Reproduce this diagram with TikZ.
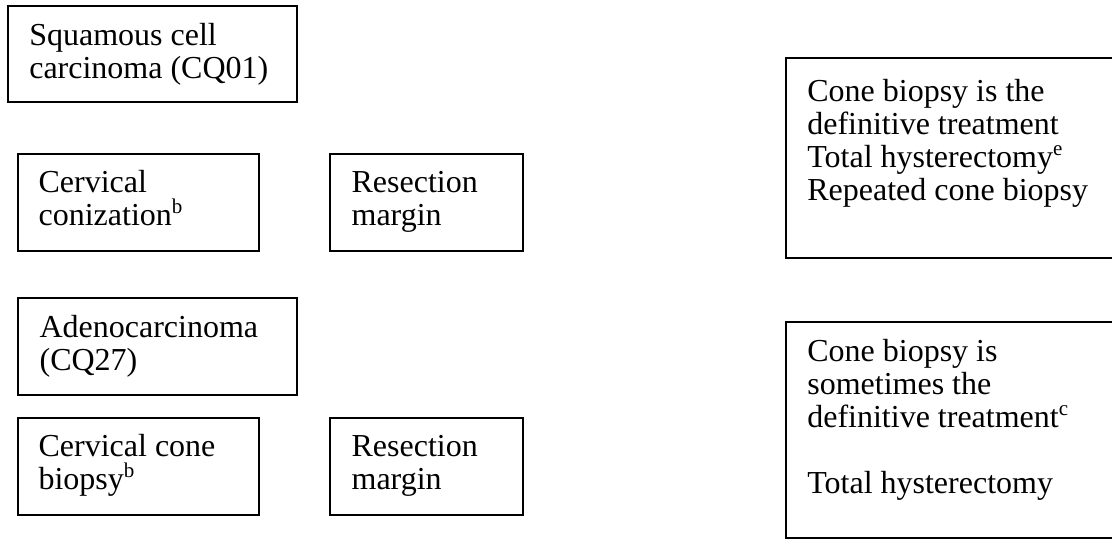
\documentclass[tikz,border=0pt]{standalone}
\usepackage{fontspec}
\setmainfont{Liberation Serif}
\usetikzlibrary{fit}
\tikzset{
  box/.style={draw=black, line width=0.8pt, inner sep=0pt, fill=none},
  thickbox/.style={box, line width=1.1pt},
  txt/.style={anchor=base west, inner sep=0pt, font=\fontsize{16}{16.5}\selectfont}
}
\newcommand{\mylines}[1]{\vtop{\baselineskip=16.5pt #1}}
\newcommand{\mysup}[1]{\raisebox{0.38em}{\fontsize{10.5}{10.5}\selectfont #1}}
\begin{document}
\begin{tikzpicture}[x=0.5pt, y=-0.5pt]
\useasboundingbox (0,0) rectangle (1112,538);
\clip (0,0) rectangle (1112,538);
% boxes
\node[thickbox, fit={(8,6) (297,102)}] (b1) {};
\node[box, fit={(18,154) (259,251)}] (b2) {};
\node[box, fit={(330,154) (523,251)}] (b3) {};
\node[box, fit={(18,298) (297,395)}] (b4) {};
\node[box, fit={(18,418) (259,515)}] (b5) {};
\node[box, fit={(330,418) (523,515)}] (b6) {};
\node[thickbox, fit={(786,58) (1130,258)}] (b7) {};
\node[thickbox, fit={(786,322) (1130,538)}] (b8) {};
% texts
\node[txt] (t1) at ([shift={(22,41)}]b1.north west) {\mylines{\hbox{Squamous cell}\hbox{carcinoma (CQ01)}}};
\node[txt] (t2) at ([shift={(21,39)}]b2.north west) {\mylines{\hbox{Cervical}\hbox{conization\mysup{b}}}};
\node[txt] (t3) at ([shift={(22,39)}]b3.north west) {\mylines{\hbox{Resection}\hbox{margin}}};
\node[txt] (t4) at ([shift={(22,40)}]b4.north west) {\mylines{\hbox{Adenocarcinoma}\hbox{(CQ27)}}};
\node[txt] (t5) at ([shift={(21,39)}]b5.north west) {\mylines{\hbox{Cervical cone}\hbox{biopsy\mysup{b}}}};
\node[txt] (t6) at ([shift={(22,39)}]b6.north west) {\mylines{\hbox{Resection}\hbox{margin}}};
\node[txt] (t7) at ([shift={(22,45)}]b7.north west) {\mylines{\hbox{Cone biopsy is the}\hbox{definitive treatment}\hbox{Total hysterectomy\mysup{e}}\hbox{Repeated cone biopsy}}};
\node[txt] (t8) at ([shift={(22,41)}]b8.north west) {\mylines{\hbox{Cone biopsy is}\hbox{sometimes the}\hbox{definitive treatment\mysup{c}}\hbox{}\hbox{Total hysterectomy}}};
\end{tikzpicture}
\end{document}
